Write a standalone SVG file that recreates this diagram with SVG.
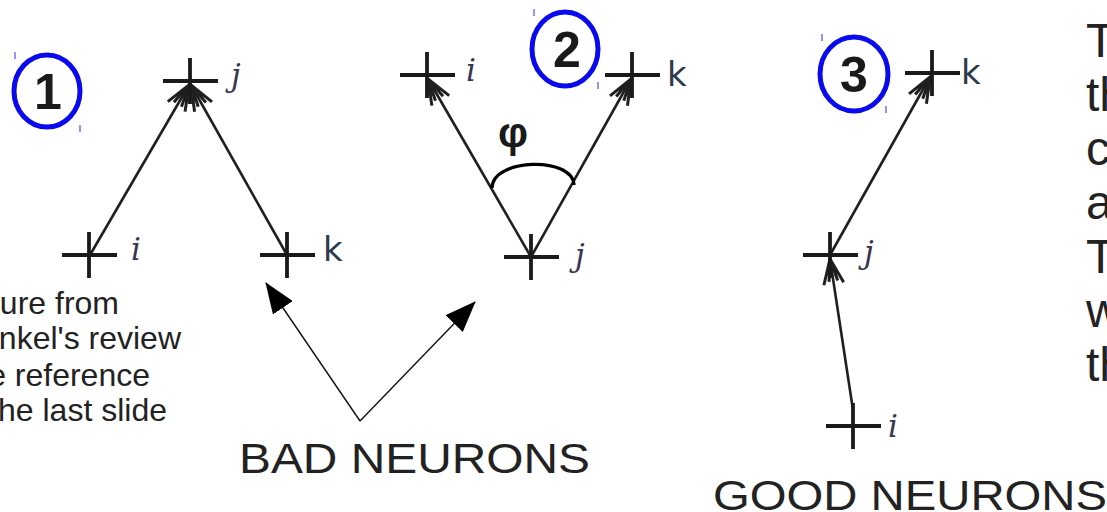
<svg xmlns="http://www.w3.org/2000/svg" xmlns:xlink="http://www.w3.org/1999/xlink" width="1107" height="512" viewBox="0 0 1107 512">
<style>
.cross{fill:none;stroke:#1a1a1a;stroke-width:3.8}
.conn{fill:none;stroke:#1f1f1f;stroke-width:2.6}
.ptr{fill:none;stroke:#111;stroke-width:1.4}
.ring{fill:none;stroke:#0a0aee;stroke-width:5}
.tick{stroke:#4a4aff;stroke-width:1.2}
.num{font-family:"Liberation Sans",Arial,sans-serif;font-weight:bold;font-size:50px;fill:#1a1a1a;text-anchor:middle}
.it{font-family:"DejaVu Serif","Liberation Serif",serif;font-style:italic;font-size:31px;fill:#3a3450}
.kk{font-family:"DejaVu Sans","Liberation Sans",sans-serif;font-size:34px;fill:#2c3a4c}
.txt{font-family:"Liberation Sans",Arial,sans-serif;fill:#222}
</style>
<defs>
<path id="cr" d="M-27,0 H28 M0,-23 V23"/>
<marker id="dbl" markerUnits="userSpaceOnUse" markerWidth="30" markerHeight="30" viewBox="-22 -12 24 24" refX="0" refY="0" orient="auto">
<path d="M-20,-8 L0,0 L-20,8 M-18,-3.5 L0,0 L-18,3.5" fill="none" stroke="#1f1f1f" stroke-width="2.4"/>
</marker>
<marker id="tri" markerUnits="userSpaceOnUse" markerWidth="32" markerHeight="24" viewBox="0 0 32 24" refX="30" refY="12" orient="auto">
<path d="M0,0 L31,12 L0,24 Z" fill="#000"/>
</marker>
</defs>
<rect width="1107" height="512" fill="#fff"/>

<g id="connectors">
<line class="conn" x1="90" y1="255" x2="189" y2="85" marker-end="url(#dbl)"/>
<line class="conn" x1="287" y1="255" x2="191" y2="85" marker-end="url(#dbl)"/>
<line class="conn" x1="531" y1="257" x2="428" y2="79" marker-end="url(#dbl)"/>
<line class="conn" x1="531" y1="257" x2="631" y2="79" marker-end="url(#dbl)"/>
<line class="conn" x1="830" y1="255" x2="930" y2="77" marker-end="url(#dbl)"/>
<line class="conn" x1="853" y1="410" x2="830" y2="259" marker-end="url(#dbl)"/>
<line class="ptr" x1="360" y1="421" x2="266" y2="283" marker-end="url(#tri)"/>
<line class="ptr" x1="360" y1="421" x2="475" y2="302" marker-end="url(#tri)"/>
</g>

<g id="panel1">
<g id="badge1">
<ellipse class="ring" cx="47" cy="91" rx="33" ry="36"/>
<text class="num" x="48" y="109">1</text>
<line class="tick" x1="15" y1="52" x2="15" y2="59"/>
<line class="tick" x1="80" y1="125" x2="80" y2="132"/>
</g>
<g id="p1-j"><use href="#cr" class="cross" transform="translate(190,81)"/><text class="it" x="231" y="86">j</text></g>
<g id="p1-i"><use href="#cr" class="cross" transform="translate(89,255)"/><text class="it" x="131" y="260">i</text></g>
<g id="p1-k"><use href="#cr" class="cross" transform="translate(287,255)"/><text class="kk" x="323" y="261">k</text></g>
</g>

<g id="panel2">
<g id="badge2">
<ellipse class="ring" cx="565" cy="49" rx="33" ry="37"/>
<text class="num" x="567" y="67">2</text>
<line class="tick" x1="534" y1="9" x2="534" y2="16"/>
<line class="tick" x1="598" y1="82" x2="598" y2="89"/>
</g>
<g id="p2-i"><use href="#cr" class="cross" transform="translate(427,75)"/><text class="it" x="466" y="81">i</text></g>
<g id="p2-k"><use href="#cr" class="cross" transform="translate(632,75)"/><text class="kk" x="667" y="86">k</text></g>
<g id="p2-j"><use href="#cr" class="cross" transform="translate(531,257)"/><text class="it" x="575" y="266">j</text></g>
<g id="angle">
<path d="M 492 188 C 492 158, 573 156, 574 185" fill="none" stroke="#000" stroke-width="3.2"/>
<text x="513" y="147" text-anchor="middle" font-family="Liberation Sans, Arial, sans-serif" font-weight="bold" font-size="42" fill="#1a1a1a">φ</text>
</g>
</g>

<g id="panel3">
<g id="badge3">
<ellipse class="ring" cx="854" cy="74" rx="34" ry="37"/>
<text class="num" x="854" y="92">3</text>
<line class="tick" x1="822" y1="34" x2="822" y2="41"/>
<line class="tick" x1="886" y1="106" x2="886" y2="113"/>
</g>
<g id="p3-k"><use href="#cr" class="cross" transform="translate(932,73)"/><text class="kk" x="961" y="84">k</text></g>
<g id="p3-j"><use href="#cr" class="cross" transform="translate(830,255)"/><text class="it" x="864" y="263">j</text></g>
<g id="p3-i"><use href="#cr" class="cross" transform="translate(853,426)"/><text class="it" x="888" y="437">i</text></g>
</g>

<g id="caption-left" class="txt" font-size="32" text-anchor="end">
<text x="119" y="314">ure from</text>
<text x="181" y="349">nkel's review</text>
<text x="150" y="386">e reference</text>
<text x="167" y="421">he last slide</text>
</g>

<g id="caption-right" class="txt" font-size="48">
<text x="1086" y="57">T</text>
<text x="1086" y="111">th</text>
<text x="1086" y="165">c</text>
<text x="1086" y="219">a</text>
<text x="1086" y="273">T</text>
<text x="1086" y="327">w</text>
<text x="1086" y="381">th</text>
</g>

<g id="label-bad"><text class="txt" x="239" y="473" font-size="42" textLength="351" lengthAdjust="spacingAndGlyphs">BAD NEURONS</text></g>
<g id="label-good"><text class="txt" x="713" y="510" font-size="42" textLength="394" lengthAdjust="spacingAndGlyphs">GOOD NEURONS</text></g>
</svg>
